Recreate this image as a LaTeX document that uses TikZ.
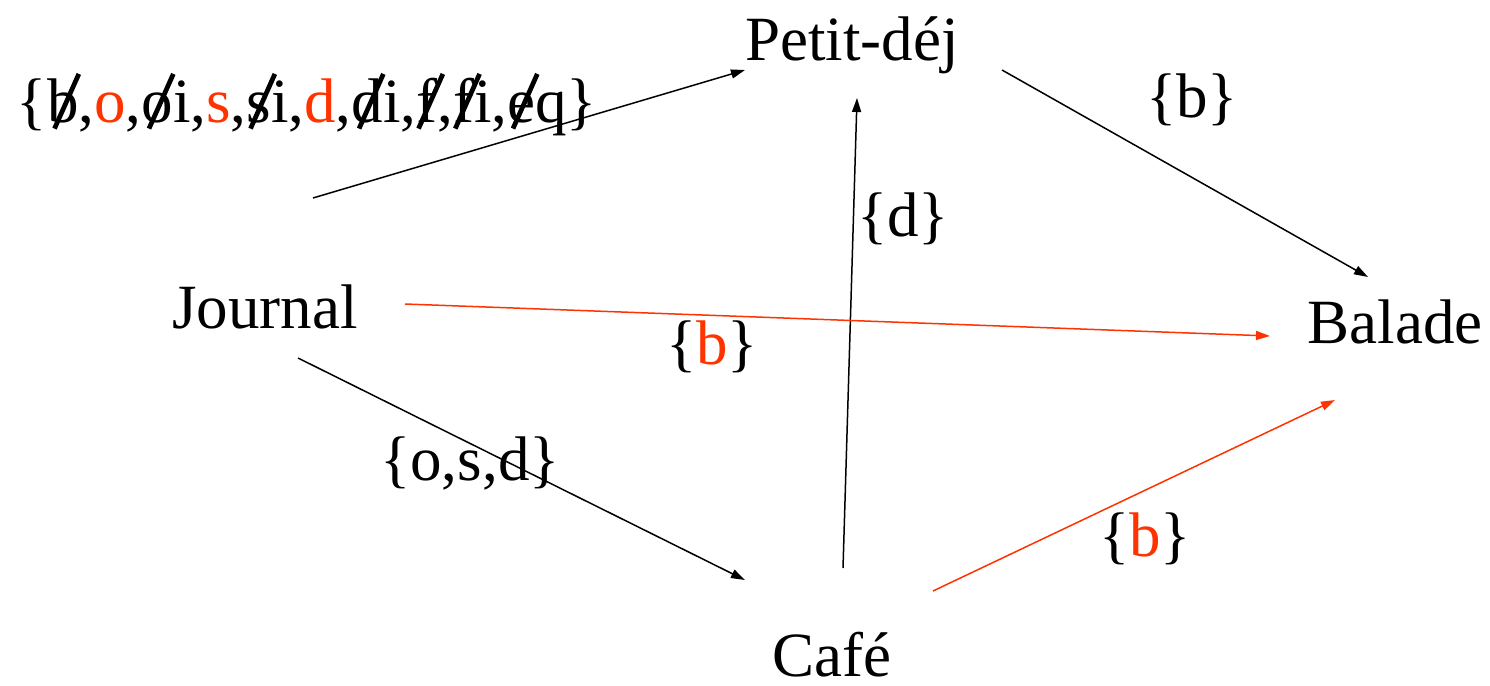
\documentclass[tikz,border=0pt]{standalone}
\usepackage{fontspec}
\usepackage{graphicx}
\setmainfont{Liberation Serif}
\usetikzlibrary{arrows.meta}
\definecolor{redo}{HTML}{FF3300}
\newcommand{\rd}[1]{\textcolor{redo}{#1}}
\newcommand{\strk}[1]{\ooalign{#1\cr\hidewidth\kern0.12em\raisebox{-0.12em}{\rotatebox{66}{\rule{0.95em}{0.075em}}}\hidewidth\cr}}
\tikzset{
  lbl/.style={inner sep=0pt, font=\fontsize{63}{70}\selectfont, anchor=base},
  arr/.style={line width=1.5pt, -{Triangle[length=14pt,width=9pt]}},
  rarr/.style={arr, draw=redo, fill=redo},
}
\begin{document}
\begin{tikzpicture}[x=1pt,y=-1pt]
\useasboundingbox (0,0) rectangle (1490,685);
\node[lbl] (petit) at (852,60) {Petit-déj};
\node[lbl] (journal) at (265,328) {Journal};
\node[lbl] (balade) at (1395,343) {Balade};
\node[lbl] (cafe) at (832,676) {Café};
\node[lbl] (set) at (307,122) {\{\strk{b},\rd{o},\strk{o}i,\rd{s},\strk{s}i,\rd{d},\strk{d}i,\strk{f},\strk{f}i,\strk{e}q\}};
\node[lbl] (lb1) at (1192,117) {\{b\}};
\node[lbl] (ld) at (903,236) {\{d\}};
\node[lbl] (lb2) at (712,364) {\{\rd{b}\}};
\node[lbl] (losd) at (470,480) {\{o,s,d\}};
\node[lbl] (lb3) at (1145,556) {\{\rd{b}\}};
\coordinate (j1) at (313,198); \coordinate (p1) at (745,70);
\coordinate (p2) at (1002,70); \coordinate (b1) at (1368,277);
\coordinate (c1) at (843,568); \coordinate (p3) at (857,98);
\coordinate (j2) at (405,304); \coordinate (b2) at (1270,336);
\coordinate (j3) at (298,358); \coordinate (c2) at (745,580);
\coordinate (c3) at (933,591); \coordinate (b3) at (1335,400);
\draw[arr] (j1) -- (p1);
\draw[arr] (p2) -- (b1);
\draw[arr] (c1) -- (p3);
\draw[rarr] (j2) -- (b2);
\draw[arr] (j3) -- (c2);
\draw[rarr] (c3) -- (b3);
\end{tikzpicture}
\end{document}
